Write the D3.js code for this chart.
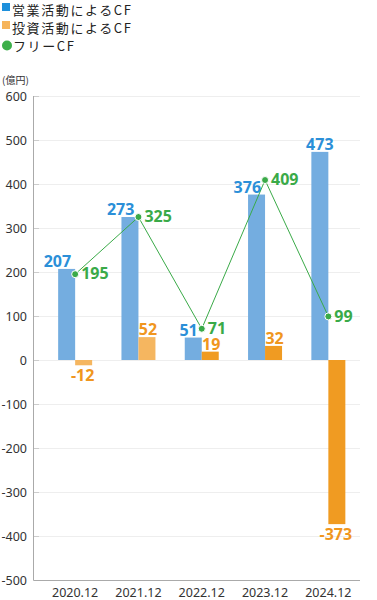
<!DOCTYPE html>
<html><head><meta charset="utf-8">
<script src="https://cdn.jsdelivr.net/npm/d3@7"></script>
<style>
html,body{margin:0;padding:0;background:#fff;}
svg{display:block;}
</style></head>
<body>
<svg id="c" width="377" height="600"></svg>
<script>
const categories = ["2020.12","2021.12","2022.12","2023.12","2024.12"];
const operatingBars = [207, 325, 51, 376, 473];
const operatingLabels = [207, 273, 51, 376, 473];
const investing = [-12, 52, 19, 32, -373];
const freeCF = [195, 325, 71, 409, 99];
const yTicks = [600,500,400,300,200,100,0,-100,-200,-300,-400,-500];
const legendItems = ["営業活動によるCF","投資活動によるCF","フリーCF"];

const svg = d3.select("#c");
const font = "'Noto Sans CJK JP','Noto Sans',sans-serif";
const numFont = "'Noto Sans','Noto Sans CJK JP',sans-serif";

const x = d3.scaleBand().domain(categories).range([43.5, 360]).paddingInner(0.463).paddingOuter(0.2315);
const x1 = d3.scaleBand().domain([0,1]).range([0, x.bandwidth()]);
const y = d3.scaleLinear().domain([-500, 600]).range([580, 96]);

const blueBar = "#74ADE0";
const orangeLight = "#F5B660";
const orangeDark = "#F09B22";
const blueText = "#2B8FD8";
const orangeText = "#F0961E";
const green = "#3AAA48";

// grid
const g = svg.append("g");
g.selectAll("line.grid").data(yTicks).join("line")
  .attr("x1", 34).attr("x2", 360)
  .attr("y1", d => Math.round(y(d)) + 0.5).attr("y2", d => Math.round(y(d)) + 0.5)
  .attr("stroke", "#eeeeee").attr("stroke-width", 1);
g.selectAll("line.tick").data(yTicks).join("line")
  .attr("x1", 34).attr("x2", 39)
  .attr("y1", d => Math.round(y(d)) + 0.5).attr("y2", d => Math.round(y(d)) + 0.5)
  .attr("stroke", "#cccccc").attr("stroke-width", 1);
g.selectAll("text.yt").data(yTicks).join("text")
  .attr("x", 27).attr("y", d => y(d)).attr("dy", "0.36em")
  .attr("text-anchor", "end").attr("font-family", numFont).attr("font-size", 12.5)
  .attr("fill", "#333").text(d => d);
svg.append("text").attr("x", 2).attr("y", 84).attr("font-family", font).attr("font-size", 10)
  .attr("fill", "#333").text("(億円)");

// bars
const bars = svg.append("g");
bars.selectAll("rect.op").data(categories).join("rect")
  .attr("x", d => x(d) + x1(0)).attr("width", x1.bandwidth())
  .attr("y", (d,i) => y(Math.max(0, operatingBars[i])))
  .attr("height", (d,i) => Math.abs(y(operatingBars[i]) - y(0)))
  .attr("fill", blueBar);
bars.selectAll("rect.inv").data(categories).join("rect")
  .attr("x", d => x(d) + x1(1)).attr("width", x1.bandwidth())
  .attr("y", (d,i) => y(Math.max(0, investing[i])))
  .attr("height", (d,i) => Math.abs(y(investing[i]) - y(0)))
  .attr("fill", (d,i) => i < 2 ? orangeLight : orangeDark);

// axes
svg.append("line").attr("x1", 33.5).attr("x2", 33.5).attr("y1", 96).attr("y2", 580.5)
  .attr("stroke", "#aaaaaa");
svg.append("line").attr("x1", 33.5).attr("x2", 360).attr("y1", 580.5).attr("y2", 580.5)
  .attr("stroke", "#aaaaaa");
svg.selectAll("text.xt").data(categories).join("text")
  .attr("x", d => x(d) + x.bandwidth()/2).attr("y", 597)
  .attr("text-anchor", "middle").attr("font-family", numFont).attr("font-size", 12.5)
  .attr("fill", "#333").text(d => d);

// line
const cx = d => x(d) + x.bandwidth()/2;
const line = d3.line().x((d,i) => cx(categories[i])).y(d => y(d));
svg.append("path").datum(freeCF).attr("d", line).attr("fill", "none")
  .attr("stroke", green).attr("stroke-width", 1);
svg.selectAll("circle.pt").data(freeCF).join("circle")
  .attr("cx", (d,i) => cx(categories[i])).attr("cy", d => y(d)).attr("r", 3.5)
  .attr("fill", green).attr("stroke", "#fff").attr("stroke-width", 1);

// labels
const lbl = svg.append("g").attr("font-family", numFont).attr("font-size", 16).attr("font-weight", 700);
const collides = i => {
  const top = y(operatingBars[i]) - 16, bottom = y(operatingBars[i]) + 2, py = y(freeCF[i]);
  return py > top - 4 && py < bottom + 6;
};
lbl.selectAll("text.op").data(operatingLabels).join("text")
  .attr("x", (d,i) => collides(i) ? cx(categories[i]) - 4 : x(categories[i]) + x1(0) + x1.bandwidth()/2)
  .attr("y", (d,i) => y(operatingBars[i]) - 2)
  .attr("text-anchor", (d,i) => collides(i) ? "end" : "middle").attr("fill", blueText).text(d => d);
lbl.selectAll("text.inv").data(investing).join("text")
  .attr("x", (d,i) => x(categories[i]) + x1(1) + x1.bandwidth()/2 + (d >= 0 ? 1 : -1))
  .attr("y", d => d >= 0 ? y(d) - 2 : y(d) + 16)
  .attr("text-anchor", "middle").attr("fill", orangeText).text(d => d);
lbl.selectAll("text.fcf").data(freeCF).join("text")
  .attr("x", (d,i) => cx(categories[i]) + 6)
  .attr("y", d => y(d) - 1).attr("dy", "0.38em")
  .attr("fill", green).text(d => d);

// legend
const leg = svg.append("g").attr("font-family", font).attr("font-size", 13)
  .attr("letter-spacing", 1.6).attr("fill", "#222");
leg.append("rect").attr("x", 2).attr("y", 3).attr("width", 8).attr("height", 8).attr("fill", "#1E90DC");
leg.append("rect").attr("x", 2).attr("y", 21).attr("width", 8).attr("height", 8).attr("fill", "#F6B45A");
leg.append("circle").attr("cx", 7).attr("cy", 45.5).attr("r", 5).attr("fill", "#3DAF4A");
leg.selectAll("text").data(legendItems).join("text")
  .attr("x", (d,i) => i < 2 ? 12 : 13).attr("y", (d,i) => 15 + i*18).text(d => d);
</script>
</body></html>
